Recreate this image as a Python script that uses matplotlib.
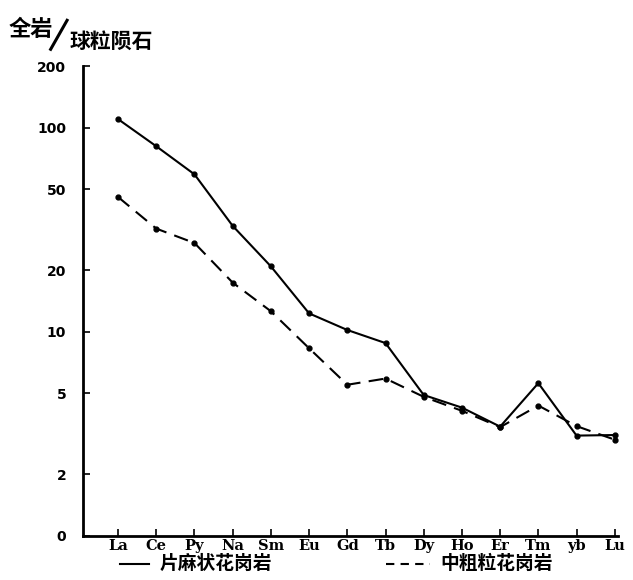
import matplotlib
matplotlib.use("Agg")
import matplotlib.pyplot as plt
from matplotlib.lines import Line2D

plt.rcParams['font.family'] = ['Noto Sans CJK SC', 'DejaVu Sans']

# REE patterns, chondrite normalised
elements = ['La', 'Ce', 'Py', 'Na', 'Sm', 'Eu', 'Gd', 'Tb', 'Dy', 'Ho', 'Er', 'Tm', 'yb', 'Lu']
gneiss = [110, 81, 59, 33, 20.9, 12.3, 10.2, 8.8, 4.9, 4.25, 3.43, 5.6, 3.1, 3.12]
medium = [45.7, 32, 27.2, 17.4, 12.6, 8.3, 5.5, 5.9, 4.8, 4.1, 3.41, 4.35, 3.45, 2.96]
yticks = [1, 2, 5, 10, 20, 50, 100, 200]
ylabels = ['0', '2', '5', '10', '20', '50', '100', '200']

fig = plt.figure(figsize=(6.33, 5.80), dpi=100)
ax = fig.add_axes([0.131, 0.076, 0.845, 0.810])

x = list(range(len(elements)))
ax.plot(x, gneiss, color='black', lw=1.5, marker='o', ms=3.5)
ax.plot(x, medium, color='black', lw=1.5, marker='o', ms=3.5, dashes=(7, 4))

ax.set_yscale('log')
ax.set_ylim(1, 200)
ax.set_xlim(-0.92, 13.08)
ax.set_yticks(yticks)
ax.set_yticklabels(ylabels, fontfamily='DejaVu Sans', fontweight='bold', fontsize=10)
ax.minorticks_off()
ax.set_xticks(x)
ax.set_xticklabels(elements, fontfamily='DejaVu Serif', fontweight='bold', fontsize=10.5)
ax.tick_params(axis='both', direction='in', length=5, width=1.2, pad=2)
ax.tick_params(axis='y', pad=12)
for s in ['top', 'right']:
    ax.spines[s].set_visible(False)
for s in ['left', 'bottom']:
    ax.spines[s].set_linewidth(2)

# axis title
fig.text(0.014, 0.938, '全岩', fontsize=16, fontweight='bold')
fig.add_artist(Line2D([0.080, 0.106], [0.915, 0.965], color='black', lw=2.2))
fig.text(0.110, 0.918, '球粒陨石', fontsize=15, fontweight='bold')

# legend below the axis
fig.add_artist(Line2D([0.19, 0.235], [0.028, 0.028], color='black', lw=1.5))
fig.text(0.252, 0.028, '片麻状花岗岩', fontsize=13.5, fontweight='bold', va='center')
fig.add_artist(Line2D([0.61, 0.68], [0.028, 0.028], color='black', lw=1.5, dashes=(4, 3)))
fig.text(0.695, 0.028, '中粗粒花岗岩', fontsize=13.5, fontweight='bold', va='center')

fig.savefig('out.png', dpi=100)
